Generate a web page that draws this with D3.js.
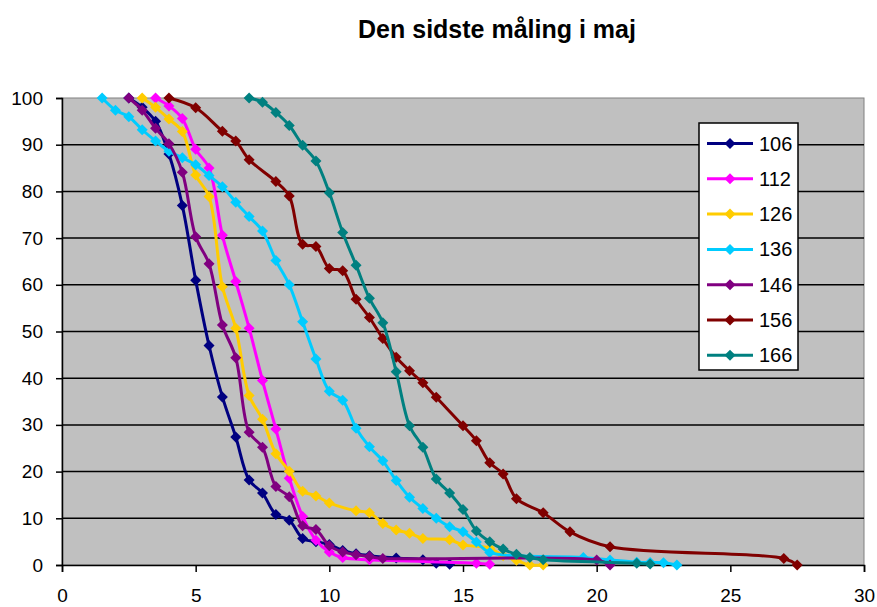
<!DOCTYPE html>
<html>
<head>
<meta charset="utf-8">
<script src="https://cdn.jsdelivr.net/npm/d3@7/dist/d3.min.js"></script>
<style>
  body { margin: 0; background: #fff; }
  text { font-family: "Liberation Sans", Arial, sans-serif; fill: #000; }
</style>
</head>
<body>
<div id="chart"></div>
<script>
// series names + colours
var seriesNames = ["106", "112", "126", "136", "146", "156", "166"];
var seriesColors = ["#000080", "#FF00FF", "#FFCC00", "#00CCFF", "#800080", "#800000", "#008080"];

// values
var x106 = [2.5, 3, 3.5, 4, 4.5, 5, 5.5, 6, 6.5, 7, 7.5, 8, 8.5, 9, 9.5, 10, 10.5, 11, 11.5, 12.5, 13.5, 14, 14.5];
var y106 = [100, 98, 95, 88, 77, 61, 47, 36, 27.4, 18.2, 15.4, 10.8, 9.6, 5.7, 5.0, 4.4, 3.1, 2.4, 2.0, 1.5, 1.1, 0.4, 0.15];

var x112 = [3.5, 4, 4.5, 5, 5.5, 6, 6.5, 7, 7.5, 8, 8.5, 9, 9.5, 10, 10.5, 11.5, 15.5, 16];
var y112 = [100, 98.3, 95.6, 89, 85, 70.6, 60.7, 50.7, 39.5, 29.1, 18.6, 10.4, 5.3, 2.8, 1.6, 1.1, 0.4, 0.15];

var x126 = [3, 3.5, 4, 4.5, 5, 5.5, 6, 6.5, 7, 7.5, 8, 8.5, 9, 9.5, 10, 11, 11.5, 12, 12.5, 13, 13.5, 14.5, 15, 16, 16.5, 17, 17.5, 18];
var y126 = [100, 98, 95.5, 92.8, 83.5, 78.9, 59.6, 50.7, 36.3, 31.2, 23.8, 20.1, 15.8, 14.8, 13.3, 11.6, 11.2, 8.9, 7.5, 6.8, 5.7, 5.4, 4.3, 3.6, 2.0, 1.0, 0, 0];

var x136 = [1.5, 2, 2.5, 3, 3.5, 4, 4.5, 5, 5.5, 6, 6.5, 7, 7.5, 8, 8.5, 9, 9.5, 10, 10.5, 11, 11.5, 12, 12.5, 13, 13.5, 14, 14.5, 15, 15.5, 16, 19.5, 20.5, 21.5, 22, 22.5, 23];
var y136 = [100, 97.4, 96, 93.2, 90.8, 88.6, 87.2, 85.7, 83.4, 81, 77.7, 74.6, 71.5, 65.2, 60, 52.1, 44.1, 37.2, 35.3, 29.3, 25.3, 22.3, 18.1, 14.5, 12.1, 10, 8.2, 7.1, 4.9, 2.7, 1.6, 1.07, 0.6, 0.55, 0.5, 0];

var x146 = [2.5, 3, 3.5, 4, 4.5, 5, 5.5, 6, 6.5, 7, 7.5, 8, 8.5, 9, 9.5, 10, 10.5, 11, 11.5, 12, 20, 20.5];
var y146 = [100, 97.4, 93.5, 90.2, 84.1, 70.3, 64.5, 51.4, 44.4, 28.4, 25.2, 16.8, 14.6, 8.4, 7.6, 4.1, 2.8, 2.2, 1.8, 1.4, 1.07, 0];

var x156 = [4, 5, 6, 6.5, 7, 8, 8.5, 9, 9.5, 10, 10.5, 11, 11.5, 12, 12.5, 13, 13.5, 14, 15, 15.5, 16, 16.5, 17, 18, 19, 20.5, 27, 27.5];
var y156 = [100, 97.9, 92.9, 90.8, 86.8, 82.1, 79, 68.7, 68.2, 63.5, 63, 56.9, 53, 48.5, 44.5, 41.6, 39, 35.9, 29.8, 26.6, 21.9, 19.5, 14.2, 11.2, 7.1, 3.9, 1.4, 0];

var x166 = [7, 7.5, 8, 8.5, 9, 9.5, 10, 10.5, 11, 11.5, 12, 12.5, 13, 13.5, 14, 14.5, 15, 15.5, 16, 16.5, 17, 17.5, 18, 21.5, 22];
var y166 = [100, 99.1, 96.9, 94.1, 89.9, 86.5, 79.7, 71.2, 64.2, 57.1, 51.9, 41.4, 29.8, 25.2, 18.4, 15.4, 11.9, 7.3, 5.0, 3.4, 2.3, 1.6, 1.1, 0.4, 0.2];

var xTicks = [0, 5, 10, 15, 20, 25, 30];
var yTicks = [0, 10, 20, 30, 40, 50, 60, 70, 80, 90, 100];

var allX = [x106, x112, x126, x136, x146, x156, x166];
var allY = [y106, y112, y126, y136, y146, y156, y166];

var W = 877, H = 607;
var margin = {top: 98, right: 13, bottom: 42, left: 62},
    width = W - margin.left - margin.right,
    height = H - margin.top - margin.bottom;

var svg = d3.select("#chart").append("svg")
    .attr("width", W)
    .attr("height", H);

// title
svg.append("text")
    .attr("x", 497)
    .attr("y", 38)
    .attr("text-anchor", "middle")
    .style("font-size", "25px")
    .style("font-weight", "bold")
    .text("Den sidste måling i maj");

var g = svg.append("g").attr("transform", "translate(" + margin.left + "," + margin.top + ")");

var x = d3.scaleLinear().domain([0, 30]).range([0, width]);
var y = d3.scaleLinear().domain([0, 100]).range([height, 0]);

// plot area
g.append("rect")
    .attr("width", width)
    .attr("height", height)
    .attr("fill", "#C0C0C0")
    .attr("stroke", "#808080")
    .attr("stroke-width", 1);

// gridlines
g.selectAll(".grid")
    .data(yTicks.filter(function(d){ return d > 0 && d < 100; }))
    .enter().append("line")
    .attr("class", "grid")
    .attr("x1", 0)
    .attr("x2", width)
    .attr("y1", function(d){ return y(d); })
    .attr("y2", function(d){ return y(d); })
    .attr("stroke", "#000")
    .attr("stroke-width", 1.5);

// axes
var yAxis = g.append("g")
    .call(d3.axisLeft(y).tickValues(yTicks).tickSize(6).tickPadding(13));
var xAxis = g.append("g")
    .attr("transform", "translate(0," + height + ")")
    .call(d3.axisBottom(x).tickValues(xTicks).tickSize(7).tickPadding(17));

[xAxis, yAxis].forEach(function(a){
    a.select(".domain").attr("stroke", "#000").attr("stroke-width", 1.5);
    a.selectAll(".tick line").attr("stroke", "#000").attr("stroke-width", 1.5);
    a.selectAll(".tick text")
      .style("font-family", "Liberation Sans, Arial, sans-serif")
      .style("font-size", "19px")
      .attr("fill", "#000");
});

// smoothed lines, like excel
var line = d3.line()
    .x(function(d){ return x(d[0]); })
    .y(function(d){ return y(d[1]); })
    .curve(d3.curveCatmullRom.alpha(0.5));

var diamond = "M0,-5.5L5.5,0L0,5.5L-5.5,0Z";

seriesNames.forEach(function(name, i){
    var pts = allX[i].map(function(v, j){ return [v, allY[i][j]]; });
    var s = g.append("g").attr("class", "series s" + name);
    s.append("path")
      .datum(pts)
      .attr("d", line)
      .attr("fill", "none")
      .attr("stroke", seriesColors[i])
      .attr("stroke-width", 3)
      .attr("stroke-linejoin", "round");
    s.selectAll("path.m")
      .data(pts)
      .enter().append("path")
      .attr("class", "m")
      .attr("d", diamond)
      .attr("transform", function(d){ return "translate(" + x(d[0]) + "," + y(d[1]) + ")"; })
      .attr("fill", seriesColors[i]);
});

// legend
var legend = svg.append("g").attr("transform", "translate(699,123)");
legend.append("rect")
    .attr("width", 99)
    .attr("height", 247)
    .attr("fill", "#fff")
    .attr("stroke", "#000")
    .attr("stroke-width", 1.5);

var item = legend.selectAll(".item")
    .data(seriesNames)
    .enter().append("g")
    .attr("class", "item")
    .attr("transform", function(d, i){ return "translate(0," + (20.5 + i * 35.3) + ")"; });

item.append("line")
    .attr("x1", 8).attr("x2", 54)
    .attr("stroke", function(d, i){ return seriesColors[i]; })
    .attr("stroke-width", 3);
item.append("path")
    .attr("d", diamond)
    .attr("transform", "translate(31,0)")
    .attr("fill", function(d, i){ return seriesColors[i]; });
item.append("text")
    .attr("x", 60)
    .attr("y", 7)
    .style("font-size", "20px")
    .text(function(d){ return d; });
</script>
</body>
</html>
